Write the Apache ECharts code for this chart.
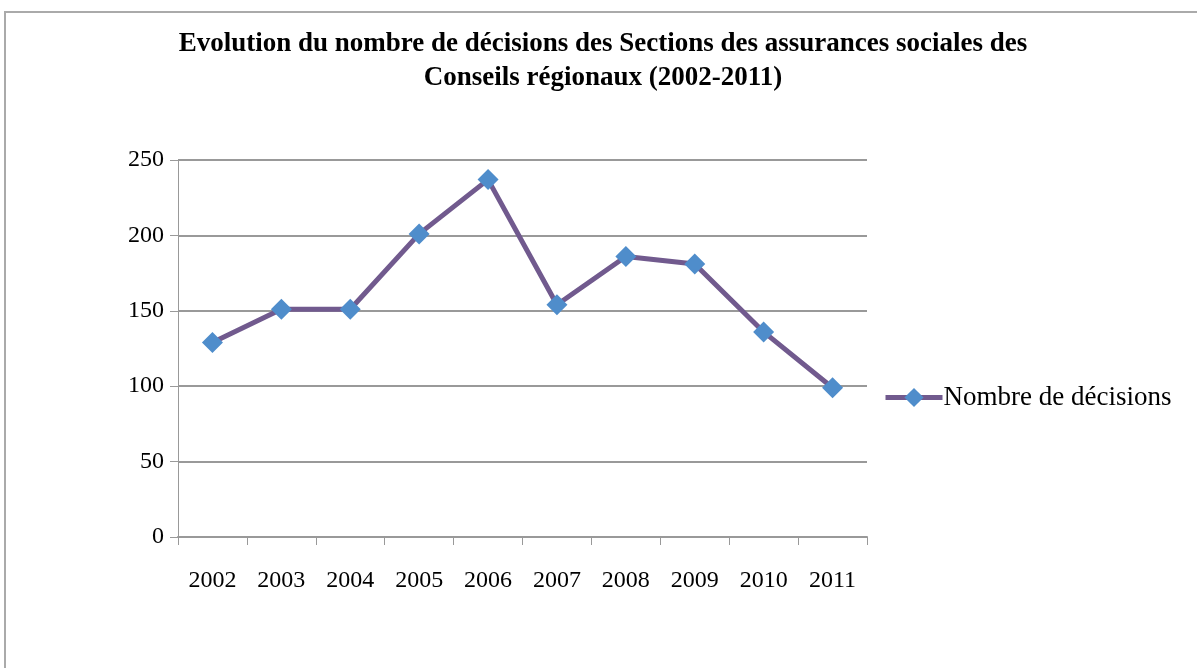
<!DOCTYPE html>
<html>
<head>
<meta charset="utf-8">
<script src="https://cdn.jsdelivr.net/npm/echarts@6/dist/echarts.min.js"></script>
<style>html,body{margin:0;padding:0;background:#fff}#c{width:1197px;height:668px}</style>
</head>
<body>
<div id="c"></div>
<script>
const categories = ['2002','2003','2004','2005','2006','2007','2008','2009','2010','2011'];
const decisions = [129, 151, 151, 201, 237, 154, 186, 181, 136, 99];
const yTicks = { min: 0, max: 250, interval: 50 };
const seriesName = 'Nombre de décisions';
const titleLines = ['Evolution du nombre de décisions des Sections des assurances sociales des', 'Conseils régionaux (2002-2011)'];

const chart = echarts.init(document.getElementById('c'));
chart.setOption({
  animation: false,
  backgroundColor: '#fff',
  graphic: [{
    type: 'rect', shape: { x: 5, y: 12, width: 1300, height: 800 },
    style: { fill: 'none', stroke: '#aaaaaa', lineWidth: 2 }, silent: true
  }],
  title: {
    text: titleLines.join('\n'),
    left: 598, textAlign: 'center', top: 22,
    textStyle: { fontFamily: 'Liberation Serif', fontWeight: 'bold', fontSize: 27, lineHeight: 34, color: '#000' }
  },
  legend: {
    left: 878, top: 379, orient: 'vertical',
    itemWidth: 57, itemHeight: 24, itemGap: 0,
    lineStyle: { width: 5 },
    textStyle: { fontFamily: 'Liberation Serif', fontSize: 27, color: '#000', padding: [0,0,0,-4] },
    data: [seriesName]
  },
  grid: { left: 178, right: 330, top: 160, bottom: 131 },
  xAxis: {
    type: 'category', data: categories, boundaryGap: true,
    axisLine: { lineStyle: { color: '#999', width: 2 } },
    axisTick: { show: true, length: 8, lineStyle: { color: '#999', width: 1 } },
    axisLabel: { margin: 32, fontFamily: 'Liberation Serif', fontSize: 24, color: '#000' }
  },
  yAxis: {
    type: 'value', min: yTicks.min, max: yTicks.max, interval: yTicks.interval,
    axisLine: { show: true, lineStyle: { color: '#999', width: 1 } },
    axisTick: { show: true, length: 8, lineStyle: { color: '#999' } },
    splitLine: { lineStyle: { color: '#999', width: 2 } },
    axisLabel: { margin: 14, fontFamily: 'Liberation Serif', fontSize: 24, color: '#000' }
  },
  series: [{
    name: seriesName, type: 'line', data: decisions,
    symbol: 'diamond', symbolSize: 21,
    lineStyle: { color: '#715a8e', width: 5 },
    itemStyle: { color: '#4f8dcb' }
  }]
});
</script>
</body>
</html>
